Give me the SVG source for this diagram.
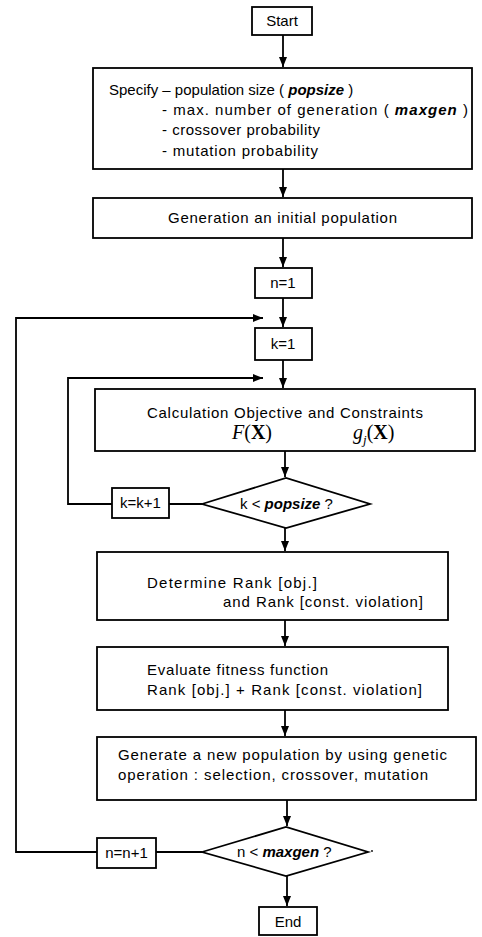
<svg xmlns="http://www.w3.org/2000/svg" width="482" height="937" viewBox="0 0 482 937">
<style>
.box{fill:#fff;stroke:#000;stroke-width:1.8}
.t{font-family:"Liberation Sans",Arial,sans-serif;font-size:15px;fill:#000}
.bi{font-weight:bold;font-style:italic}
.m{font-family:"Liberation Serif","Times New Roman",serif;font-size:20px;fill:#000}
.c{fill:none;stroke:#000;stroke-width:1.8}
</style>
<defs>
<marker id="ah" viewBox="0 0 10 8" refX="10" refY="4" markerWidth="10" markerHeight="8" markerUnits="userSpaceOnUse" orient="auto">
<path d="M0,0 L10,4 L0,8 Z" fill="#000"/>
</marker>
</defs>
<rect width="482" height="937" fill="#fff"/>
<g id="connectors">
<line class="c" x1="283" y1="35" x2="283" y2="67" marker-end="url(#ah)"/>
<line class="c" x1="283" y1="169" x2="283" y2="197" marker-end="url(#ah)"/>
<line class="c" x1="283" y1="238" x2="283" y2="267" marker-end="url(#ah)"/>
<line class="c" x1="283" y1="298" x2="283" y2="327" marker-end="url(#ah)"/>
<line class="c" x1="283" y1="360" x2="283" y2="388" marker-end="url(#ah)"/>
<line class="c" x1="285" y1="451" x2="285" y2="477" marker-end="url(#ah)"/>
<line class="c" x1="285" y1="528" x2="285" y2="551" marker-end="url(#ah)"/>
<line class="c" x1="285" y1="620" x2="285" y2="646" marker-end="url(#ah)"/>
<line class="c" x1="285" y1="710" x2="285" y2="736" marker-end="url(#ah)"/>
<line class="c" x1="287" y1="800" x2="287" y2="826" marker-end="url(#ah)"/>
<line class="c" x1="287" y1="876" x2="287" y2="906" marker-end="url(#ah)"/>
<line class="c" x1="202" y1="504" x2="169" y2="504"/>
<polyline class="c" points="112,504 68,504 68,378 263,378" marker-end="url(#ah)"/>
<line class="c" x1="202" y1="852" x2="156" y2="852"/>
<polyline class="c" points="97,852 16,852 16,318 263,318" marker-end="url(#ah)"/>
</g>
<g id="start">
<rect class="box" x="252" y="7" width="60" height="28"/>
<text class="t" x="282" y="26" text-anchor="middle">Start</text>
</g>
<g id="specify">
<rect class="box" x="93" y="68" width="379" height="101"/>
<text class="t" x="109" y="95" font-size="14">Specify – population size ( <tspan class="bi">popsize</tspan> )</text>
<text class="t" x="162" y="115" textLength="306" lengthAdjust="spacing">- max. number of generation ( <tspan class="bi">maxgen</tspan> )</text>
<text class="t" x="162" y="135" textLength="158" lengthAdjust="spacing">- crossover probability</text>
<text class="t" x="162" y="156" textLength="156" lengthAdjust="spacing">- mutation probability</text>
</g>
<g id="init">
<rect class="box" x="93" y="198" width="379" height="40"/>
<text class="t" x="168" y="223" textLength="229" lengthAdjust="spacing">Generation an initial population</text>
</g>
<g id="n1">
<rect class="box" x="255" y="268" width="57" height="30"/>
<text class="t" x="283" y="288" text-anchor="middle">n=1</text>
</g>
<g id="k1">
<rect class="box" x="255" y="328" width="57" height="32"/>
<text class="t" x="283" y="349" text-anchor="middle">k=1</text>
</g>
<g id="calc">
<rect class="box" x="95" y="389" width="380" height="62"/>
<text class="t" x="147" y="418" textLength="276" lengthAdjust="spacing">Calculation Objective and Constraints</text>
<text class="m" x="232" y="439"><tspan font-style="italic">F</tspan>(<tspan font-weight="bold">X</tspan>)</text>
<text class="m" x="353" y="439"><tspan font-style="italic">g</tspan><tspan font-style="italic" font-size="13" dy="5">j</tspan><tspan dy="-5">(</tspan><tspan font-weight="bold">X</tspan>)</text>
</g>
<g id="kcheck">
<polygon class="box" points="202,504 286,478 370,504 286,528"/>
<text class="t" x="240" y="509">k &lt; <tspan class="bi">popsize</tspan>  ?</text>
</g>
<g id="kinc">
<rect class="box" x="112" y="488" width="57" height="30"/>
<text class="t" x="140.5" y="508" text-anchor="middle">k=k+1</text>
</g>
<g id="rank">
<rect class="box" x="97" y="552" width="351" height="68"/>
<text class="t" x="147" y="588" textLength="170" lengthAdjust="spacing">Determine Rank [obj.]</text>
<text class="t" x="223" y="607" textLength="200" lengthAdjust="spacing">and Rank [const. violation]</text>
</g>
<g id="fitness">
<rect class="box" x="97" y="647" width="351" height="63"/>
<text class="t" x="147" y="675" textLength="181" lengthAdjust="spacing">Evaluate fitness function</text>
<text class="t" x="147" y="695" textLength="275" lengthAdjust="spacing">Rank [obj.] + Rank [const. violation]</text>
</g>
<g id="generate">
<rect class="box" x="97" y="737" width="379" height="63"/>
<text class="t" x="118" y="760" textLength="329" lengthAdjust="spacing">Generate a new population by using genetic</text>
<text class="t" x="118" y="780" textLength="310" lengthAdjust="spacing">operation : selection, crossover, mutation</text>
</g>
<g id="ncheck">
<polygon class="box" points="202,852 286,827 368,852 286,876"/>
<text class="t" x="237" y="857">n &lt; <tspan class="bi">maxgen</tspan>  ?</text>
<circle cx="372" cy="851" r="0.9" fill="#000"/>
</g>
<g id="ninc">
<rect class="box" x="97" y="838" width="59" height="30"/>
<text class="t" x="126.5" y="858" text-anchor="middle">n=n+1</text>
</g>
<g id="end">
<rect class="box" x="259" y="907" width="58" height="28"/>
<text class="t" x="288" y="927" text-anchor="middle">End</text>
</g>
</svg>
